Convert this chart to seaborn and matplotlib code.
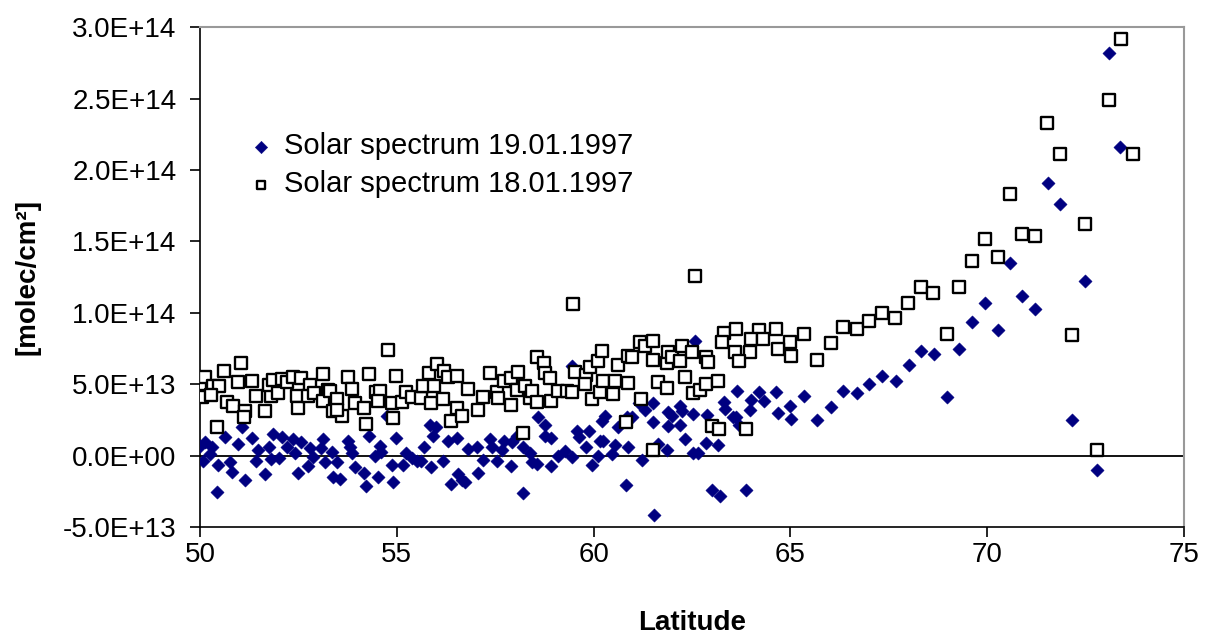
import numpy as np
import pandas as pd
import matplotlib
matplotlib.use("Agg")
import matplotlib.pyplot as plt
from matplotlib.ticker import FuncFormatter, MultipleLocator
import seaborn as sns

# Solar spectrum 19.01.1997 (latitude, value in 1E13 molec/cm2)
lat_19 = [50.0, 50.13, 50.30, 50.08, 50.25, 50.45, 50.64, 50.76, 50.80, 50.97, 51.06, 51.14, 51.31, 51.48,
          51.41, 51.65, 51.75, 51.86, 51.80, 52.09, 52.00, 52.20, 52.37, 52.57, 52.41, 52.48, 52.79, 52.74,
          52.88, 53.13, 53.18, 53.07, 53.35, 50.42, 53.39,
          53.47, 53.77, 53.81, 53.85, 53.94, 53.56, 54.17, 54.22, 54.30, 54.45, 54.56, 54.53, 54.59, 54.74,
          54.87, 54.91, 54.98, 55.15, 55.23, 55.38, 55.51, 55.61, 55.69, 55.84, 55.87, 56.00, 55.93, 56.18,
          56.31, 56.52, 56.37, 56.56, 56.65, 56.82,
          56.73, 57.03, 57.07, 57.20, 57.37, 57.41, 57.54, 57.66, 57.73, 57.92, 57.90, 58.05, 58.21, 58.21,
          58.38, 58.43, 58.58, 58.55, 58.77, 58.77, 58.92, 58.92, 59.10, 59.27, 59.44, 59.46, 59.57, 59.63,
          59.87, 59.80, 59.95, 60.16, 60.21, 60.12,
          60.29, 60.63, 60.84, 60.97, 61.14, 61.31, 61.52, 61.52, 61.90, 61.98, 61.90, 62.20, 62.24, 62.20,
          62.53, 62.87, 62.32, 62.86, 63.17, 63.30, 63.34, 63.55, 62.58, 60.25, 60.54, 60.46, 60.88, 61.22,
          61.64, 61.86, 62.53, 62.66, 60.82, 63.00, 63.21, 61.53,
          63.64, 64.20, 64.64, 64.01, 64.32, 63.96, 64.68, 65.00, 65.02, 65.35, 65.68, 66.02, 66.34, 66.68,
          67.00, 63.62, 63.68, 63.88,
          67.33, 67.67, 68.00, 68.32, 68.64, 68.97, 69.29, 69.62, 69.94, 70.27, 70.59, 70.89, 71.21, 71.54,
          71.84, 72.15, 72.48, 72.79, 73.09, 73.38]
val_19 = [0.70, 0.93, 0.58, -0.35, 0.12, -0.63, 1.28, -0.47, -1.17, 0.82, 2.03, -1.70, 1.24, 0.40,
          -0.35, -1.28, 0.63, 1.52, -0.23, 1.28, -0.16, 0.58, 1.17, 0.93, 0.16, -1.24, 0.51, -0.70,
          -0.12, 1.17, -0.47, 0.54, 0.23, -2.57, -1.52,
          -0.47, 1.05, 0.58, 0.16, -0.82, -1.63, -1.24, -2.10, 1.40, 0.00, 0.70, -1.52, 0.23, 2.80,
          -0.65, -1.82, 1.24, -0.63, 0.16, -0.16, -0.35, -0.40, 0.58, 2.17, -0.82, 1.98, 1.40, -0.35,
          1.05, 1.24, -1.98, -1.28, -1.70, 0.47,
          -1.87, 0.58, -1.24, -0.30, 1.17, 0.58, -0.35, 0.40, 1.05, 0.93, -0.70, 1.40, 0.58, -2.64,
          0.16, -0.47, 2.69, -0.58, 2.17, 1.40, 1.24, -0.70, 0.00, 0.35, -0.07, 6.31, 1.75, 1.28,
          1.75, 0.63, -0.63, 1.05, 2.45, 0.00,
          2.80, 1.98, 2.69, 2.73, 3.67, 3.20, 3.67, 2.33, 3.04, 2.80, 2.10, 3.50, 3.10, 2.17,
          2.92, 2.87, 1.17, 0.89, 0.77, 3.74, 3.27, 2.73, 8.00, 1.00, 0.77, 0.12, 0.58, -0.30,
          0.82, 0.40, 0.16, 0.16, -2.03, -2.40, -2.80, -4.16,
          4.55, 4.44, 4.44, 3.90, 3.80, 3.20, 3.00, 3.45, 2.60, 4.20, 2.50, 3.43, 4.55, 4.37,
          5.00, 2.70, 2.17, -2.38,
          5.60, 5.25, 6.35, 7.30, 7.15, 4.13, 7.50, 9.37, 10.70, 8.80, 13.50, 11.20, 10.30, 19.10,
          17.60, 2.50, 12.20, -1.00, 28.20, 21.65]

# Solar spectrum 18.01.1997 (latitude, value in 1E13 molec/cm2)
lat_18 = [50.0, 50.13, 50.34, 50.48, 50.06, 50.27, 50.62, 51.04, 50.69, 50.83, 51.14, 51.12, 50.42, 50.97,
          51.31, 51.41, 51.65, 51.80, 51.75, 51.86, 52.09, 51.97, 52.20, 52.37, 52.57, 52.79, 52.46, 52.48,
          52.75, 52.90, 53.13, 53.26, 53.13, 53.39,
          53.30, 53.49, 53.60, 53.47, 53.77, 53.85, 53.94, 54.17, 54.21, 54.29, 54.47, 54.56, 54.51, 54.78,
          54.87, 54.90, 54.98, 55.12, 55.23, 55.38, 55.61, 55.67, 55.82, 55.87, 55.95, 56.01, 56.21, 56.31,
          56.52, 56.17, 56.54, 56.37, 56.65, 56.82,
          57.06, 57.20, 57.37, 57.54, 57.56, 57.71, 57.90, 57.90, 58.05, 58.09, 58.26, 58.38, 58.43, 58.55,
          58.55, 58.75, 58.77, 58.89, 58.92, 59.10, 59.32, 59.44, 59.53, 59.80, 59.78, 59.91, 59.95, 60.12,
          60.16, 60.21, 58.21, 59.48,
          60.63, 60.86, 60.97, 61.18, 61.31, 61.52, 61.50, 61.86, 61.90, 61.98, 62.20, 62.24, 62.49, 62.86,
          62.91, 63.30, 63.25, 63.58, 60.23, 60.54, 60.48, 60.88, 61.20, 61.64, 61.86, 62.32, 62.53, 62.70,
          62.86, 63.17, 60.82, 61.52, 63.00, 63.19, 62.58,
          63.62, 64.20, 64.63, 64.01, 64.30, 64.99, 65.35, 64.68, 63.96, 65.02, 63.68, 65.68, 66.02, 66.34,
          66.68, 67.00, 63.88,
          67.33, 67.66, 67.99, 68.31, 68.63, 68.97, 69.28, 69.61, 69.94, 70.26, 70.58, 70.89, 71.21, 71.53,
          71.84, 72.15, 72.48, 72.78, 73.08, 73.39, 73.69]
val_18 = [5.02, 5.49, 4.86, 4.90, 4.13, 4.27, 5.96, 6.47, 3.78, 3.50, 3.15, 2.69, 1.98, 5.19,
          5.26, 4.20, 3.15, 4.20, 4.95, 5.30, 5.37, 4.37, 5.14, 5.49, 5.42, 4.98, 4.20, 3.31,
          4.20, 4.39, 5.72, 4.60, 3.85, 3.15,
          4.55, 3.97, 2.75, 3.20, 5.49, 4.67, 3.67, 3.34, 2.22, 5.72, 4.44, 4.51, 3.85, 7.43,
          3.67, 2.64, 5.56, 3.78, 4.44, 4.13, 4.04, 4.90, 5.80, 3.67, 4.90, 6.43, 5.96, 5.49,
          5.61, 3.97, 3.34, 2.40, 2.80, 4.67,
          3.20, 4.09, 5.77, 4.44, 4.04, 5.26, 5.44, 3.55, 4.60, 5.84, 4.90, 4.04, 4.55, 6.94,
          3.78, 6.47, 5.77, 5.44, 3.85, 4.55, 4.55, 4.44, 5.84, 5.68, 5.02, 6.19, 3.97, 6.66,
          4.44, 7.36, 1.56, 10.60,
          6.38, 7.00, 6.94, 7.94, 7.71, 8.06, 6.71, 6.47, 7.24, 6.94, 6.61, 7.71, 7.24, 6.94,
          6.54, 8.57, 7.94, 7.24, 5.26, 5.21, 4.32, 5.07, 3.97, 5.14, 4.74, 5.49, 4.37, 4.60,
          5.02, 5.26, 2.33, 0.40, 2.10, 1.87, 12.60,
          8.90, 8.80, 8.90, 8.20, 8.20, 7.95, 8.50, 7.45, 7.27, 6.98, 6.60, 6.70, 7.87, 9.00,
          8.85, 9.44, 1.87,
          10.00, 9.65, 10.70, 11.80, 11.40, 8.50, 11.80, 13.60, 15.20, 13.90, 18.30, 15.50, 15.40, 23.30,
          21.10, 8.46, 16.20, 0.40, 24.90, 29.15, 21.10]

label_19 = "Solar spectrum 19.01.1997"
label_18 = "Solar spectrum 18.01.1997"
x_label = "Latitude"
y_label = "[molec/cm²]"

df19 = pd.DataFrame({"lat": lat_19, "val": np.array(val_19) * 1e13})
df18 = pd.DataFrame({"lat": lat_18, "val": np.array(val_18) * 1e13})

sns.set_style("white")
plt.rcParams["font.family"] = ["Liberation Sans", "DejaVu Sans"]
plt.rcParams["text.color"] = "black"
plt.rcParams["axes.labelcolor"] = "black"
plt.rcParams["xtick.color"] = "black"
plt.rcParams["ytick.color"] = "black"

fig = plt.figure(figsize=(12.08, 6.35), dpi=100)
ax = fig.add_axes([0.1656, 0.170, 0.8146, 0.787])

ax.axhline(0, color="black", lw=1.3, zorder=1)

sns.scatterplot(data=df19, x="lat", y="val", ax=ax, marker="D", s=46,
                color="#000080", edgecolor="#000080", linewidth=0.3, label=label_19, zorder=3)
sns.scatterplot(data=df18, x="lat", y="val", ax=ax, marker="s", s=68,
                facecolor="white", edgecolor="black", linewidth=1.7, label=label_18, zorder=4)

ax.set_xlim(50, 75)
ax.set_ylim(-5e13, 3e14)
ax.xaxis.set_major_locator(MultipleLocator(5))
ax.yaxis.set_major_locator(MultipleLocator(5e13))
ax.yaxis.set_major_formatter(FuncFormatter(lambda v, p: f"{v:.1E}"))

ax.set_xlabel(x_label, fontsize=20, fontweight="bold", labelpad=30)
ax.set_ylabel(y_label, fontsize=20, fontweight="bold", labelpad=16)

ax.tick_params(axis="both", which="major", labelsize=20, direction="out",
               length=7, width=1.2, color="black", labelcolor="black", left=True, bottom=True)
ax.tick_params(axis="y", pad=10)
ax.tick_params(axis="x", pad=4)

for side in ["left", "bottom"]:
    ax.spines[side].set_color("black")
    ax.spines[side].set_linewidth(1.2)
for side in ["right", "top"]:
    ax.spines[side].set_color("#999999")
    ax.spines[side].set_linewidth(1.5)

leg = ax.legend(loc="upper left", bbox_to_anchor=(0.05, 0.79), frameon=False,
                fontsize=21, handletextpad=0.4, handlelength=0.8, labelspacing=0.35,
                borderaxespad=0, borderpad=0)
for h in leg.legend_handles:
    h.set_sizes([40])

fig.savefig("out.png", dpi=100)
